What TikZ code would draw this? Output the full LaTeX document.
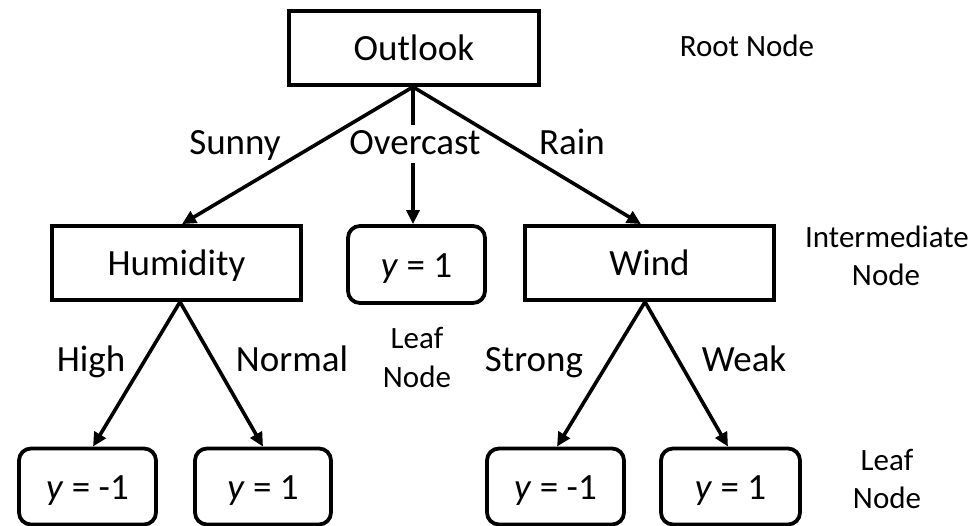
\documentclass[tikz,border=0pt]{standalone}
\usepackage{fontspec}
\setmainfont{Carlito}
\usetikzlibrary{arrows.meta}
\begin{document}
\begin{tikzpicture}[x=1pt,y=-1pt,
  box/.style={draw,line width=3.8pt,minimum height=74pt,inner sep=0pt,text height=27pt,text depth=2pt,font=\fontsize{37}{40}\selectfont},
  leafbox/.style={box,rounded corners=12pt},
  line/.style={line width=3.6pt},
  arr/.style={line,-{Triangle[length=14pt,width=13pt]}},
  elab/.style={font=\fontsize{37}{40}\selectfont,inner sep=1pt,anchor=base},
  note/.style={font=\fontsize{31}{37}\selectfont,inner sep=0pt,anchor=base}]
\useasboundingbox (0,0) rectangle (974,525);
\node[box,minimum width=250pt] (out) at (414,48) {Outlook};
\node[box,minimum width=249pt] (hum) at (176.5,263) {Humidity};
\node[box,minimum width=249pt] (wind) at (649.5,263) {Wind};
\node[leafbox,minimum width=137pt,minimum height=77pt] (oc) at (416.5,264.5) {\textit{y} = 1};
\node[leafbox,minimum width=137pt,minimum height=76pt] (l1) at (87.5,486.5) {\textit{y} = -1};
\node[leafbox,minimum width=136pt,minimum height=76pt] (l2) at (263,486.5) {\textit{y} = 1};
\node[leafbox,minimum width=137pt,minimum height=76pt] (l3) at (555.5,486.5) {\textit{y} = -1};
\node[leafbox,minimum width=139pt,minimum height=76pt] (l4) at (730.5,486.5) {\textit{y} = 1};
% edge labels
\node[elab] (sunny) at (235,154) {Sunny};
\node[elab,inner ysep=5pt,text depth=4pt] (over) at (415,154) {Overcast};
\node[elab] (rain) at (572,154) {Rain};
\node[elab] (high) at (91,371) {High};
\node[elab] (normal) at (292,371) {Normal};
\node[elab] (strong) at (534,371) {Strong};
\node[elab] (weak) at (744,371) {Weak};
% connectors
\coordinate (os) at ([xshift=-1pt]out.south);
\draw[arr] (os) -- ([xshift=5.5pt]hum.north);
\draw[line] (os) -- (over.north -| os);
\draw[arr] (over.south -| os) -- (oc.north -| os);
\draw[arr] (os) -- ([xshift=-8.5pt]wind.north);
\coordinate (hs) at ([xshift=3.5pt]hum.south);
\draw[arr] (hs) -- ([xshift=5.5pt]l1.north);
\draw[arr] (hs) -- (l2.north);
\coordinate (ws) at ([xshift=-4.5pt]wind.south);
\draw[arr] (ws) -- ([xshift=1.5pt]l3.north);
\draw[arr] (ws) -- ([xshift=-2.5pt]l4.north);
% notes
\node[note] (root) at (747,56) {Root Node};
\node[note] (inter1) at (887,247) {Intermediate};
\node[note] (inter2) at (886,285) {Node};
\node[note] (leafm1) at (417,348) {Leaf};
\node[note] (leafm2) at (417,387) {Node};
\node[note] (leafr1) at (887,470) {Leaf};
\node[note] (leafr2) at (887,508) {Node};
\end{tikzpicture}
\end{document}
